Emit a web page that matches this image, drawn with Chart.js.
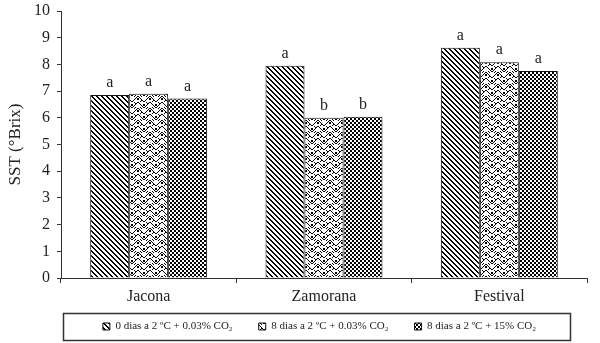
<!DOCTYPE html>
<html>
<head>
<meta charset="utf-8">
<script src="https://cdn.jsdelivr.net/npm/chart.js@4"></script>
<style>
  html, body { margin: 0; padding: 0; background: #fff; }
  #wrap { width: 600px; height: 343px; }
</style>
</head>
<body>
<div id="wrap"><canvas id="sstChart" width="600" height="343"></canvas></div>
<script>
// data
const categories = ['Jacona', 'Zamorana', 'Festival'];
const seriesLabels = [
    '0 dias a 2 \u00baC + 0.03% CO\u2082',
    '8 dias a 2 \u00baC + 0.03% CO\u2082',
    '8 dias a 2 \u00baC + 15% CO\u2082'
];
const day0Air = [6.85, 7.95, 8.62];
const day8Air = [6.9, 6.0, 8.08];
const day8Co2 = [6.72, 6.04, 7.75];
const day0Letters = ['a', 'a', 'a'];
const day8AirLetters = ['a', 'b', 'a'];
const day8Co2Letters = ['a', 'b', 'a'];
const yTicks = [0, 1, 2, 3, 4, 5, 6, 7, 8, 9, 10];

const serif = '"Times New Roman", "Liberation Serif", Times, serif';

// Build the hatch fills for the bars
function makePattern(size, draw) {
    const c = document.createElement('canvas');
    c.width = size;
    c.height = size;
    const g = c.getContext('2d');
    g.fillStyle = '#fff';
    g.fillRect(0, 0, size, size);
    g.fillStyle = '#000';
    draw(g, size);
    return document.getElementById('sstChart').getContext('2d').createPattern(c, 'repeat');
}

// diagonal "\" stripes
const diagFill = makePattern(5, function (g, n) {
    for (let i = 0; i < n; i++) {
        g.fillRect(i, i, 1, 1);
        g.fillRect((i + 1) % n, i, 1, 1);
    }
});

// zig-zag weave
const weaveFill = makePattern(12, function (g) {
    const px = [
        [0, 5], [1, 4], [2, 3], [3, 2], [4, 1], [5, 0],
        [6, 0], [7, 1], [8, 2], [9, 3], [10, 4], [11, 5],
        [0, 11], [1, 10], [2, 9], [3, 8], [4, 7], [5, 6],
        [6, 6], [7, 7], [8, 8], [9, 9], [10, 10], [11, 11],
        [2, 6], [3, 7], [8, 5], [9, 4], [2, 0], [3, 11], [8, 11], [9, 0]
    ];
    px.forEach(function (p) { g.fillRect(p[0], p[1], 1, 1); });
    g.fillRect(5, 2, 2, 2);
    g.fillRect(0, 8, 1, 2);
    g.fillRect(11, 8, 1, 2);
});

// fine checkerboard
const checkFill = makePattern(4, function (g) {
    g.fillRect(0, 0, 2, 2);
    g.fillRect(2, 2, 2, 2);
});

// letters above bars
const letterPlugin = {
    id: 'letters',
    afterDatasetsDraw(chart) {
        const ctx = chart.ctx;
        const letterSets = [day0Letters, day8AirLetters, day8Co2Letters];
        ctx.save();
        ctx.font = '16px ' + serif;
        ctx.fillStyle = '#222';
        ctx.textAlign = 'center';
        ctx.textBaseline = 'alphabetic';
        chart.data.datasets.forEach(function (ds, di) {
            const meta = chart.getDatasetMeta(di);
            meta.data.forEach(function (bar, i) {
                ctx.fillText(letterSets[di][i], bar.x, bar.y - 8);
            });
        });
        ctx.restore();
    }
};

// fixed legend height, nudge it into place, frame around it
const legendBoxPlugin = {
    id: 'legendBox',
    afterInit(chart) {
        const lg = chart.legend;
        if (!lg) return;
        const fit = lg.fit;
        lg.fit = function () {
            fit.call(this);
            this.height = 36;
        };
        const draw = lg.draw;
        lg.draw = function () {
            const t = this.top, l = this.left, r = this.right;
            this.top = t - 12;
            this.left = l + 26;
            this.right = r + 26;
            draw.apply(this, arguments);
            this.top = t;
            this.left = l;
            this.right = r;
        };
    },
    afterDraw(chart) {
        const ctx = chart.ctx;
        ctx.save();
        ctx.strokeStyle = '#333';
        ctx.lineWidth = 1.5;
        ctx.strokeRect(63.5, 313.5, 507, 27);
        ctx.restore();
    }
};

Chart.defaults.font.family = serif;
Chart.defaults.color = '#222';

new Chart(document.getElementById('sstChart'), {
    type: 'bar',
    data: {
        labels: categories,
        datasets: [
            { label: seriesLabels[0], data: day0Air, backgroundColor: diagFill },
            { label: seriesLabels[1], data: day8Air, backgroundColor: weaveFill },
            { label: seriesLabels[2], data: day8Co2, backgroundColor: checkFill }
        ].map(function (d) {
            return Object.assign(d, {
                borderColor: '#111',
                borderWidth: 1,
                borderSkipped: 'bottom',
                categoryPercentage: 0.667,
                barPercentage: 1.0
            });
        })
    },
    options: {
        responsive: false,
        animation: false,
        layout: { padding: { top: 11, right: 13, bottom: 0, left: 0 } },
        plugins: {
            legend: {
                position: 'bottom',
                labels: {
                    boxWidth: 7,
                    boxHeight: 7,
                    padding: 26,
                    font: { size: 11 },
                    color: '#222'
                }
            },
            tooltip: { enabled: false }
        },
        scales: {
            x: {
                grid: {
                    offset: true,
                    drawOnChartArea: false,
                    drawTicks: true,
                    tickLength: 5,
                    color: '#333'
                },
                border: { color: '#333', width: 1 },
                ticks: { font: { size: 16 }, color: '#222', padding: 4 },
                afterFit: function (scale) { scale.height = 29; }
            },
            y: {
                min: 0,
                max: 10,
                afterBuildTicks: function (scale) {
                    scale.ticks = yTicks.map(function (v) { return { value: v }; });
                },
                afterFit: function (scale) {
                    scale.width = 61;
                    scale.paddingTop = 0;
                    scale.paddingBottom = 0;
                },
                grid: {
                    drawOnChartArea: false,
                    drawTicks: true,
                    tickLength: 4,
                    color: '#333'
                },
                border: { color: '#333', width: 1 },
                ticks: { font: { size: 16 }, color: '#222', padding: 7 },
                title: {
                    display: true,
                    text: 'SST (\u00b0Brix)',
                    font: { size: 17 },
                    color: '#222',
                    padding: { top: 5, bottom: 6 }
                }
            }
        }
    },
    plugins: [letterPlugin, legendBoxPlugin]
});
</script>
</body>
</html>
